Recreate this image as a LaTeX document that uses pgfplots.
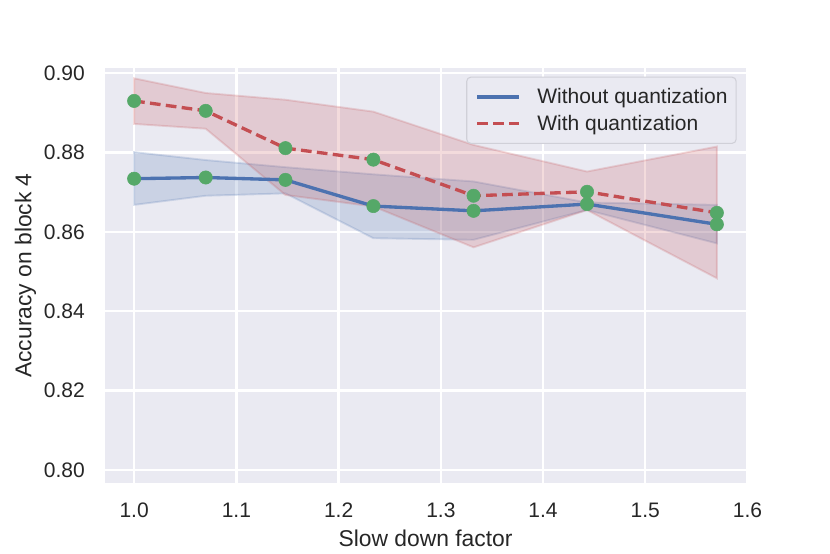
\documentclass[border=0pt]{standalone}
\usepackage{fontspec}
\setmainfont{Liberation Sans}
\usepackage{pgfplots}
\pgfplotsset{compat=1.18}
\usepackage{pgfplotstable}
\usepgfplotslibrary{fillbetween}

\definecolor{sbblue}{HTML}{4C72B0}
\definecolor{sbred}{HTML}{C44E52}
\definecolor{sbgreen}{HTML}{55A868}
\definecolor{sbbg}{HTML}{EAEAF2}
\definecolor{sbtext}{HTML}{262626}
\definecolor{legedge}{HTML}{D0D0D8}

% slow down factor, mean and band of each series
\pgfplotstableread{
x     bmean  blo    bhi    rmean  rlo    rhi
1.000 0.8734 0.8668 0.8801 0.8930 0.8872 0.8987
1.070 0.8737 0.8691 0.8781 0.8905 0.8860 0.8950
1.148 0.8731 0.8697 0.8763 0.8811 0.8693 0.8933
1.234 0.8665 0.8584 0.8745 0.8782 0.8664 0.8903
1.332 0.8653 0.8580 0.8727 0.8691 0.8561 0.8819
1.443 0.8670 0.8655 0.8674 0.8701 0.8655 0.8752
1.570 0.8619 0.8571 0.8668 0.8648 0.8483 0.8815
}\acc

\begin{document}
\begin{tikzpicture}
\begin{axis}[
  scale only axis,
  width=480.75bp, height=311.25bp,
  xmin=0.9715, xmax=1.5985,
  ymin=0.7967, ymax=0.9013,
  clip mode=individual,
  axis background/.style={fill=sbbg},
  axis line style={draw=none},
  major tick length=0pt,
  grid=major,
  grid style={white, line width=1.7bp},
  xtick={1.0,1.1,1.2,1.3,1.4,1.5},
  ytick={0.80,0.82,0.84,0.86,0.88,0.90},
  xticklabel={\pgfmathprintnumber[fixed,fixed zerofill,precision=1]{\tick}},
  yticklabel={\pgfmathprintnumber[fixed,fixed zerofill,precision=2]{\tick}},
  /pgf/number format/assume math mode=true,
  tick label style={font=\fontsize{15.8}{19}\selectfont, text=sbtext, inner sep=0pt},
  xticklabel style={anchor=north, yshift=-14.8bp},
  yticklabel style={anchor=east, xshift=-15bp},
  xlabel={Slow down factor},
  ylabel={Accuracy on block 4},
  label style={font=\fontsize{17.2}{20}\selectfont, text=sbtext, inner sep=0pt},
  xlabel style={at={(axis description cs:0.5,-0.112)}, anchor=north},
  ylabel style={at={(axis description cs:-0.107,0.5)}, anchor=south},
  legend cell align=left,
  legend image code/.code={\draw[#1] (0bp,0bp) -- (31.4bp,0bp);},
  legend style={
    at={(axis description cs:1,1)}, anchor=north east,
    xshift=-7bp, yshift=-6.5bp,
    fill=sbbg, draw=legedge, line width=0.8bp, rounded corners=3bp,
    inner xsep=6.5bp, inner ysep=8.3bp,
    font=\fontsize{15.8}{19}\selectfont, text=sbtext,
    row sep=7.2bp,
    nodes={inner sep=0pt},
    /tikz/every odd column/.append style={column sep=12.5bp},
  },
]
\addplot[draw=none, name path=bu, forget plot] table[x=x, y=bhi] {\acc};
\addplot[draw=none, name path=bl, forget plot] table[x=x, y=blo] {\acc};
\addplot[fill=sbblue, fill opacity=0.2, draw=sbblue, draw opacity=0.2, line width=1.4bp, forget plot] fill between[of=bu and bl];
\addplot[draw=none, name path=ru, forget plot] table[x=x, y=rhi] {\acc};
\addplot[draw=none, name path=rl, forget plot] table[x=x, y=rlo] {\acc};
\addplot[fill=sbred, fill opacity=0.2, draw=sbred, draw opacity=0.2, line width=1.4bp, forget plot] fill between[of=ru and rl];

\addplot[sbblue, line width=2.5bp, no markers] table[x=x, y=bmean] {\acc};
\addlegendentry{Without quantization}
\addplot[sbred, line width=2.5bp, dash pattern=on 8bp off 4bp, no markers] table[x=x, y=rmean] {\acc};
\addlegendentry{With quantization}

\addplot[only marks, mark=*, mark size=5bp, draw=sbgreen, fill=sbgreen, forget plot] table[x=x, y=bmean] {\acc};
\addplot[only marks, mark=*, mark size=5bp, draw=sbgreen, fill=sbgreen, forget plot] table[x=x, y=rmean] {\acc};

% tick label 1.6 sits just past the right edge of the axis
\node[anchor=north, inner sep=0pt, yshift=-14.8bp, text=sbtext,
      font=\fontsize{15.8}{19}\selectfont] at (axis cs:1.6,0.7967) {1.6};
\end{axis}
\path[use as bounding box] (-78.75bp,-53.25bp) rectangle (543.75bp,362.25bp);
\end{tikzpicture}
\end{document}
